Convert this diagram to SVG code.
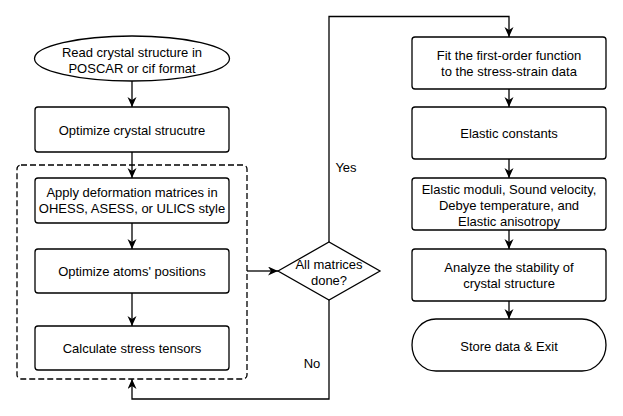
<svg xmlns="http://www.w3.org/2000/svg" width="623" height="416" viewBox="0 0 623 416">
<style>
.n{fill:#fff;stroke:#000;stroke-width:1.3}
.t{font-family:"Liberation Sans",Arial,sans-serif;font-size:13px;fill:#000;text-anchor:middle}
.c{fill:none;stroke:#000;stroke-width:1.3}
</style>
<defs>
<marker id="ah" markerUnits="userSpaceOnUse" markerWidth="11" markerHeight="10" refX="10" refY="4.5" orient="auto">
<path d="M0,0 L10,4.5 L0,9 L3,4.5 Z" fill="#000"/>
</marker>
</defs>
<rect width="623" height="416" fill="#fff"/>
<g id="group-dashed">
<rect x="17" y="165" width="230" height="214" rx="4" fill="none" stroke="#000" stroke-width="1.3" stroke-dasharray="6 3"/>
</g>
<g id="connectors">
<path class="c" d="M132,81 V107" marker-end="url(#ah)"/>
<path class="c" d="M132,152 V178" marker-end="url(#ah)"/>
<path class="c" d="M132,223 V249" marker-end="url(#ah)"/>
<path class="c" d="M132,293 V326" marker-end="url(#ah)"/>
<path class="c" d="M247,271 H278" marker-end="url(#ah)"/>
<path class="c" d="M329,242 V16.5 H509 V37" marker-end="url(#ah)"/>
<path class="c" d="M329,300 V399 H132 V379" marker-end="url(#ah)"/>
<path class="c" d="M509,89 V107" marker-end="url(#ah)"/>
<path class="c" d="M509,159 V178" marker-end="url(#ah)"/>
<path class="c" d="M509,230 V249" marker-end="url(#ah)"/>
<path class="c" d="M509,301 V319" marker-end="url(#ah)"/>
<text class="t" x="346" y="172">Yes</text>
<text class="t" x="312" y="368">No</text>
</g>
<g id="read">
<ellipse class="n" cx="132" cy="58.5" rx="97.5" ry="22.5"/>
<text class="t" x="132" y="57">Read crystal structure in</text>
<text class="t" x="132" y="72.5">POSCAR or cif format</text>
</g>
<g id="optimize-crystal">
<rect class="n" x="35" y="107" width="194" height="45" rx="3"/>
<text class="t" x="132" y="134.5">Optimize crystal strucutre</text>
</g>
<g id="apply">
<rect class="n" x="35" y="178" width="194" height="45" rx="3"/>
<text class="t" x="132" y="197.3">Apply deformation matrices in</text>
<text class="t" x="132" y="213.3">OHESS, ASESS, or ULICS style</text>
</g>
<g id="optimize-atoms">
<rect class="n" x="35" y="249" width="194" height="44" rx="3"/>
<text class="t" x="132" y="276">Optimize atoms' positions</text>
</g>
<g id="calculate">
<rect class="n" x="35" y="326" width="194" height="44" rx="3"/>
<text class="t" x="132" y="353">Calculate stress tensors</text>
</g>
<g id="decision">
<polygon class="n" points="278,271 329,242 380,271 329,300"/>
<text class="t" x="329" y="268.5">All matrices</text>
<text class="t" x="329" y="284.5">done?</text>
</g>
<g id="fit">
<rect class="n" x="412" y="37" width="194" height="52" rx="3"/>
<text class="t" x="509" y="60">Fit the first-order function</text>
<text class="t" x="509" y="76">to the stress-strain data</text>
</g>
<g id="constants">
<rect class="n" x="412" y="107" width="194" height="52" rx="3"/>
<text class="t" x="509" y="138">Elastic constants</text>
</g>
<g id="moduli">
<rect class="n" x="412" y="178" width="194" height="52" rx="3"/>
<text class="t" x="509" y="194">Elastic moduli, Sound velocity,</text>
<text class="t" x="509" y="210">Debye temperature, and</text>
<text class="t" x="509" y="226">Elastic anisotropy</text>
</g>
<g id="analyze">
<rect class="n" x="412" y="249" width="194" height="52" rx="3"/>
<text class="t" x="509" y="272">Analyze the stability of</text>
<text class="t" x="509" y="288">crystal structure</text>
</g>
<g id="store">
<rect class="n" x="412" y="319" width="194" height="52" rx="24" ry="26"/>
<text class="t" x="509" y="350.5">Store data &amp; Exit</text>
</g>
</svg>
